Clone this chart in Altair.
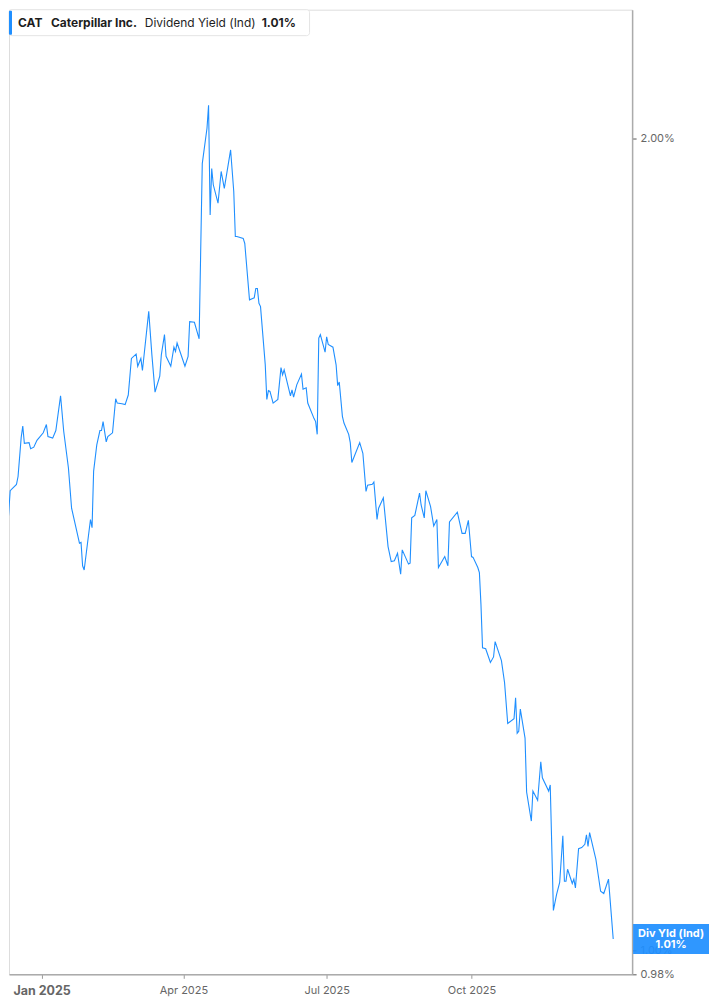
import altair as alt
import pandas as pd

# CAT indicated dividend yield (%)
dates = [
    "2024-12-06", "2024-12-09", "2024-12-10", "2024-12-11", "2024-12-12", "2024-12-16",
    "2024-12-17", "2024-12-19", "2024-12-20", "2024-12-21", "2024-12-24", "2024-12-25",
    "2024-12-27", "2024-12-29",
    "2025-01-02", "2025-01-04", "2025-01-05", "2025-01-08", "2025-01-10", "2025-01-13",
    "2025-01-15", "2025-01-18", "2025-01-20", "2025-01-25", "2025-01-26", "2025-01-27",
    "2025-01-28",
    "2025-02-01", "2025-02-02", "2025-02-03", "2025-02-05", "2025-02-07", "2025-02-08",
    "2025-02-09", "2025-02-11", "2025-02-12", "2025-02-15", "2025-02-17", "2025-02-18",
    "2025-02-21", "2025-02-23", "2025-02-25", "2025-02-27",
    "2025-03-02", "2025-03-03", "2025-03-05", "2025-03-06", "2025-03-10", "2025-03-12",
    "2025-03-14", "2025-03-17", "2025-03-18", "2025-03-20", "2025-03-21", "2025-03-24",
    "2025-03-26", "2025-03-27", "2025-03-28",
    "2025-04-02", "2025-04-04", "2025-04-05", "2025-04-08", "2025-04-11", "2025-04-13",
    "2025-04-16", "2025-04-17", "2025-04-18", "2025-04-19", "2025-04-20", "2025-04-23",
    "2025-04-25", "2025-04-27",
    "2025-05-01", "2025-05-03", "2025-05-04", "2025-05-05", "2025-05-09", "2025-05-10",
    "2025-05-13", "2025-05-15", "2025-05-16", "2025-05-17", "2025-05-18", "2025-05-19",
    "2025-05-20", "2025-05-23", "2025-05-24", "2025-05-25", "2025-05-26", "2025-05-28",
    "2025-05-31",
    "2025-06-02", "2025-06-03", "2025-06-04", "2025-06-08", "2025-06-09", "2025-06-10",
    "2025-06-12", "2025-06-15", "2025-06-16", "2025-06-18", "2025-06-19", "2025-06-23",
    "2025-06-24", "2025-06-25", "2025-06-26", "2025-06-27", "2025-06-30",
    "2025-07-01", "2025-07-02", "2025-07-05", "2025-07-07", "2025-07-08", "2025-07-09",
    "2025-07-11", "2025-07-12", "2025-07-15", "2025-07-16", "2025-07-17", "2025-07-22",
    "2025-07-24", "2025-07-26", "2025-07-27", "2025-07-30", "2025-07-31",
    "2025-08-02", "2025-08-03", "2025-08-06", "2025-08-09", "2025-08-11", "2025-08-13",
    "2025-08-15", "2025-08-17", "2025-08-18", "2025-08-22", "2025-08-23", "2025-08-24",
    "2025-08-26", "2025-08-29", "2025-08-30",
    "2025-09-01", "2025-09-02", "2025-09-05", "2025-09-07", "2025-09-09", "2025-09-10",
    "2025-09-14", "2025-09-16", "2025-09-17", "2025-09-22", "2025-09-25", "2025-09-27",
    "2025-09-29",
    "2025-10-01", "2025-10-02", "2025-10-05", "2025-10-06", "2025-10-07", "2025-10-08",
    "2025-10-10", "2025-10-13", "2025-10-15", "2025-10-16", "2025-10-20", "2025-10-22",
    "2025-10-24", "2025-10-28", "2025-10-29", "2025-10-30", "2025-10-31",
    "2025-11-01", "2025-11-04", "2025-11-05", "2025-11-08", "2025-11-09", "2025-11-12",
    "2025-11-14", "2025-11-15", "2025-11-19", "2025-11-20", "2025-11-22", "2025-11-24",
    "2025-11-26", "2025-11-28", "2025-11-29", "2025-11-30",
    "2025-12-01", "2025-12-04", "2025-12-05", "2025-12-06", "2025-12-08", "2025-12-10",
    "2025-12-12", "2025-12-13", "2025-12-14", "2025-12-15", "2025-12-19", "2025-12-22",
    "2025-12-24", "2025-12-27", "2025-12-30",
]

yields = [
    1.427, 1.414, 1.452, 1.451, 1.481, 1.489,
    1.499, 1.550, 1.565, 1.542, 1.543, 1.535,
    1.537, 1.546,
    1.556, 1.567, 1.551, 1.549, 1.559, 1.606,
    1.558, 1.510, 1.459, 1.416, 1.417, 1.389,
    1.384,
    1.445, 1.435, 1.506, 1.540, 1.559, 1.559,
    1.571, 1.544, 1.551, 1.556, 1.602, 1.596,
    1.595, 1.594, 1.607, 1.658,
    1.664, 1.647, 1.658, 1.641, 1.726, 1.663,
    1.611, 1.633, 1.663, 1.692, 1.661, 1.647,
    1.674, 1.668, 1.680,
    1.647, 1.661, 1.711, 1.710, 1.686, 1.958,
    2.018, 2.058, 1.874, 1.950, 1.923, 1.893,
    1.945, 1.917,
    1.981, 1.912, 1.840, 1.840, 1.837, 1.829,
    1.743, 1.745, 1.746, 1.760, 1.760, 1.738,
    1.733, 1.649, 1.601, 1.613, 1.612, 1.596,
    1.601,
    1.645, 1.635, 1.642, 1.606, 1.614, 1.604,
    1.621, 1.636, 1.615, 1.617, 1.596, 1.575,
    1.571, 1.554, 1.687, 1.692, 1.667,
    1.689, 1.678, 1.674, 1.649, 1.620, 1.625,
    1.578, 1.569, 1.554, 1.543, 1.517, 1.543,
    1.529, 1.480, 1.488, 1.489, 1.492,
    1.445, 1.459, 1.472, 1.412, 1.394, 1.395,
    1.404, 1.379, 1.408, 1.391, 1.392, 1.447,
    1.450, 1.478, 1.463,
    1.447, 1.481, 1.461, 1.437, 1.445, 1.387,
    1.400, 1.389, 1.442, 1.454, 1.428, 1.428,
    1.444,
    1.400, 1.399, 1.387, 1.381, 1.344, 1.295,
    1.294, 1.279, 1.285, 1.302, 1.281, 1.257,
    1.214, 1.219, 1.241, 1.204, 1.206,
    1.229, 1.199, 1.145, 1.117, 1.146, 1.137,
    1.175, 1.159, 1.146, 1.152, 1.035, 1.049,
    1.060, 1.103, 1.061, 1.061,
    1.072, 1.059, 1.063, 1.055, 1.091, 1.092,
    1.095, 1.104, 1.093, 1.106, 1.081, 1.052,
    1.050, 1.063, 1.010,
]

ticker = "CAT"
company = "Caterpillar Inc."
metric = "Dividend Yield (Ind)"
tag = "Div Yld (Ind)"
y_ticks = [0.98, 1.0, 2.0]
x_tick_months = [(2025, 1), (2025, 4), (2025, 7), (2025, 10)]

BLUE = "#1f8fff"
FONT = "Inter"

df = pd.DataFrame({"date": dates, "yld": yields})
last = pd.DataFrame({"yld": [yields[-1]]})
last_text = "%.2f%%" % yields[-1]

x_scale = alt.Scale(
    type="utc",
    domain=[alt.DateTime(year=2024, month=12, date=11, hours=6, utc=True),
            alt.DateTime(year=2026, month=1, date=11, utc=True)],
)
y_scale = alt.Scale(type="log", domain=[0.98, 2.233], nice=False)

is_jan = "utcmonth(datum.value) == 0"

line = alt.Chart(df).mark_line(color=BLUE, strokeWidth=1.1, clip=True).encode(
    x=alt.X("date:T", scale=x_scale, title=None, axis=alt.Axis(
        values=[alt.DateTime(year=y, month=m, date=1, utc=True) for y, m in x_tick_months],
        labelExpr="utcFormat(datum.value, '%b %Y')",
        labelFontWeight={"condition": {"test": is_jan, "value": "bold"}, "value": "normal"},
        labelFontSize={"condition": {"test": is_jan, "value": 12.5}, "value": 11},
        labelColor="#666666", labelFont=FONT, labelPadding=6,
        tickColor="#9a9a9a", tickSize=4, domainColor="#ababab", domainWidth=1.5,
        grid=False,
    )),
    y=alt.Y("yld:Q", scale=y_scale, title=None, axis=alt.Axis(
        orient="right", values=y_ticks,
        labelExpr="format(datum.value, '.2f') + '%'",
        labelColor="#666666", labelFont=FONT, labelFontSize=11, labelPadding=4,
        tickColor="#555555", tickSize=4, domainColor="#ababab", domainWidth=1.5,
        grid=False,
    )),
)

# last value tag on the right axis
TAG_X = 663
tag_box = alt.Chart(last).mark_point(
    shape="M-1,-0.395L1,-0.395L1,0.395L-1,0.395Z", size=76 * 76,
    filled=True, color=BLUE, opacity=0.93, strokeWidth=0,
).encode(x=alt.value(TAG_X), y=alt.Y("yld:Q", scale=y_scale))

tag_top = alt.Chart(last).mark_text(
    text=tag, color="white", font=FONT, fontSize=11, fontWeight="bold", dy=-5,
).encode(x=alt.value(TAG_X), y=alt.Y("yld:Q", scale=y_scale))

tag_bottom = alt.Chart(last).mark_text(
    text=last_text, color="white", font=FONT, fontSize=11, fontWeight="bold", dy=6,
).encode(x=alt.value(TAG_X), y=alt.Y("yld:Q", scale=y_scale))

# legend box top left
one = pd.DataFrame({"a": [0]})
legend_box = alt.Chart(one).mark_rect(
    fill="white", stroke="#e4e4e4", strokeWidth=1, cornerRadius=3,
).encode(x=alt.value(0), x2=alt.value(301), y=alt.value(0), y2=alt.value(26))
legend_bar = alt.Chart(one).mark_rect(fill=BLUE, cornerRadius=1).encode(
    x=alt.value(0), x2=alt.value(3), y=alt.value(1), y2=alt.value(25))

def legend_text(txt, xpos, weight):
    return alt.Chart(one).mark_text(
        text=txt, align="left", baseline="middle", font=FONT, fontSize=12,
        fontWeight=weight, color="#1e1e1e",
    ).encode(x=alt.value(xpos), y=alt.value(13))

chart = alt.layer(
    line, tag_box, tag_top, tag_bottom, legend_box, legend_bar,
    legend_text(ticker, 9, "bold"),
    legend_text(company, 42, "bold"),
    legend_text(metric, 136, "normal"),
    legend_text(last_text, 253, "bold"),
).properties(
    width=624, height=966, padding=0,
).configure_view(stroke=None).configure(background="white", font=FONT)

chart.save("out.html", embed_options={"renderer": "svg", "actions": False})
